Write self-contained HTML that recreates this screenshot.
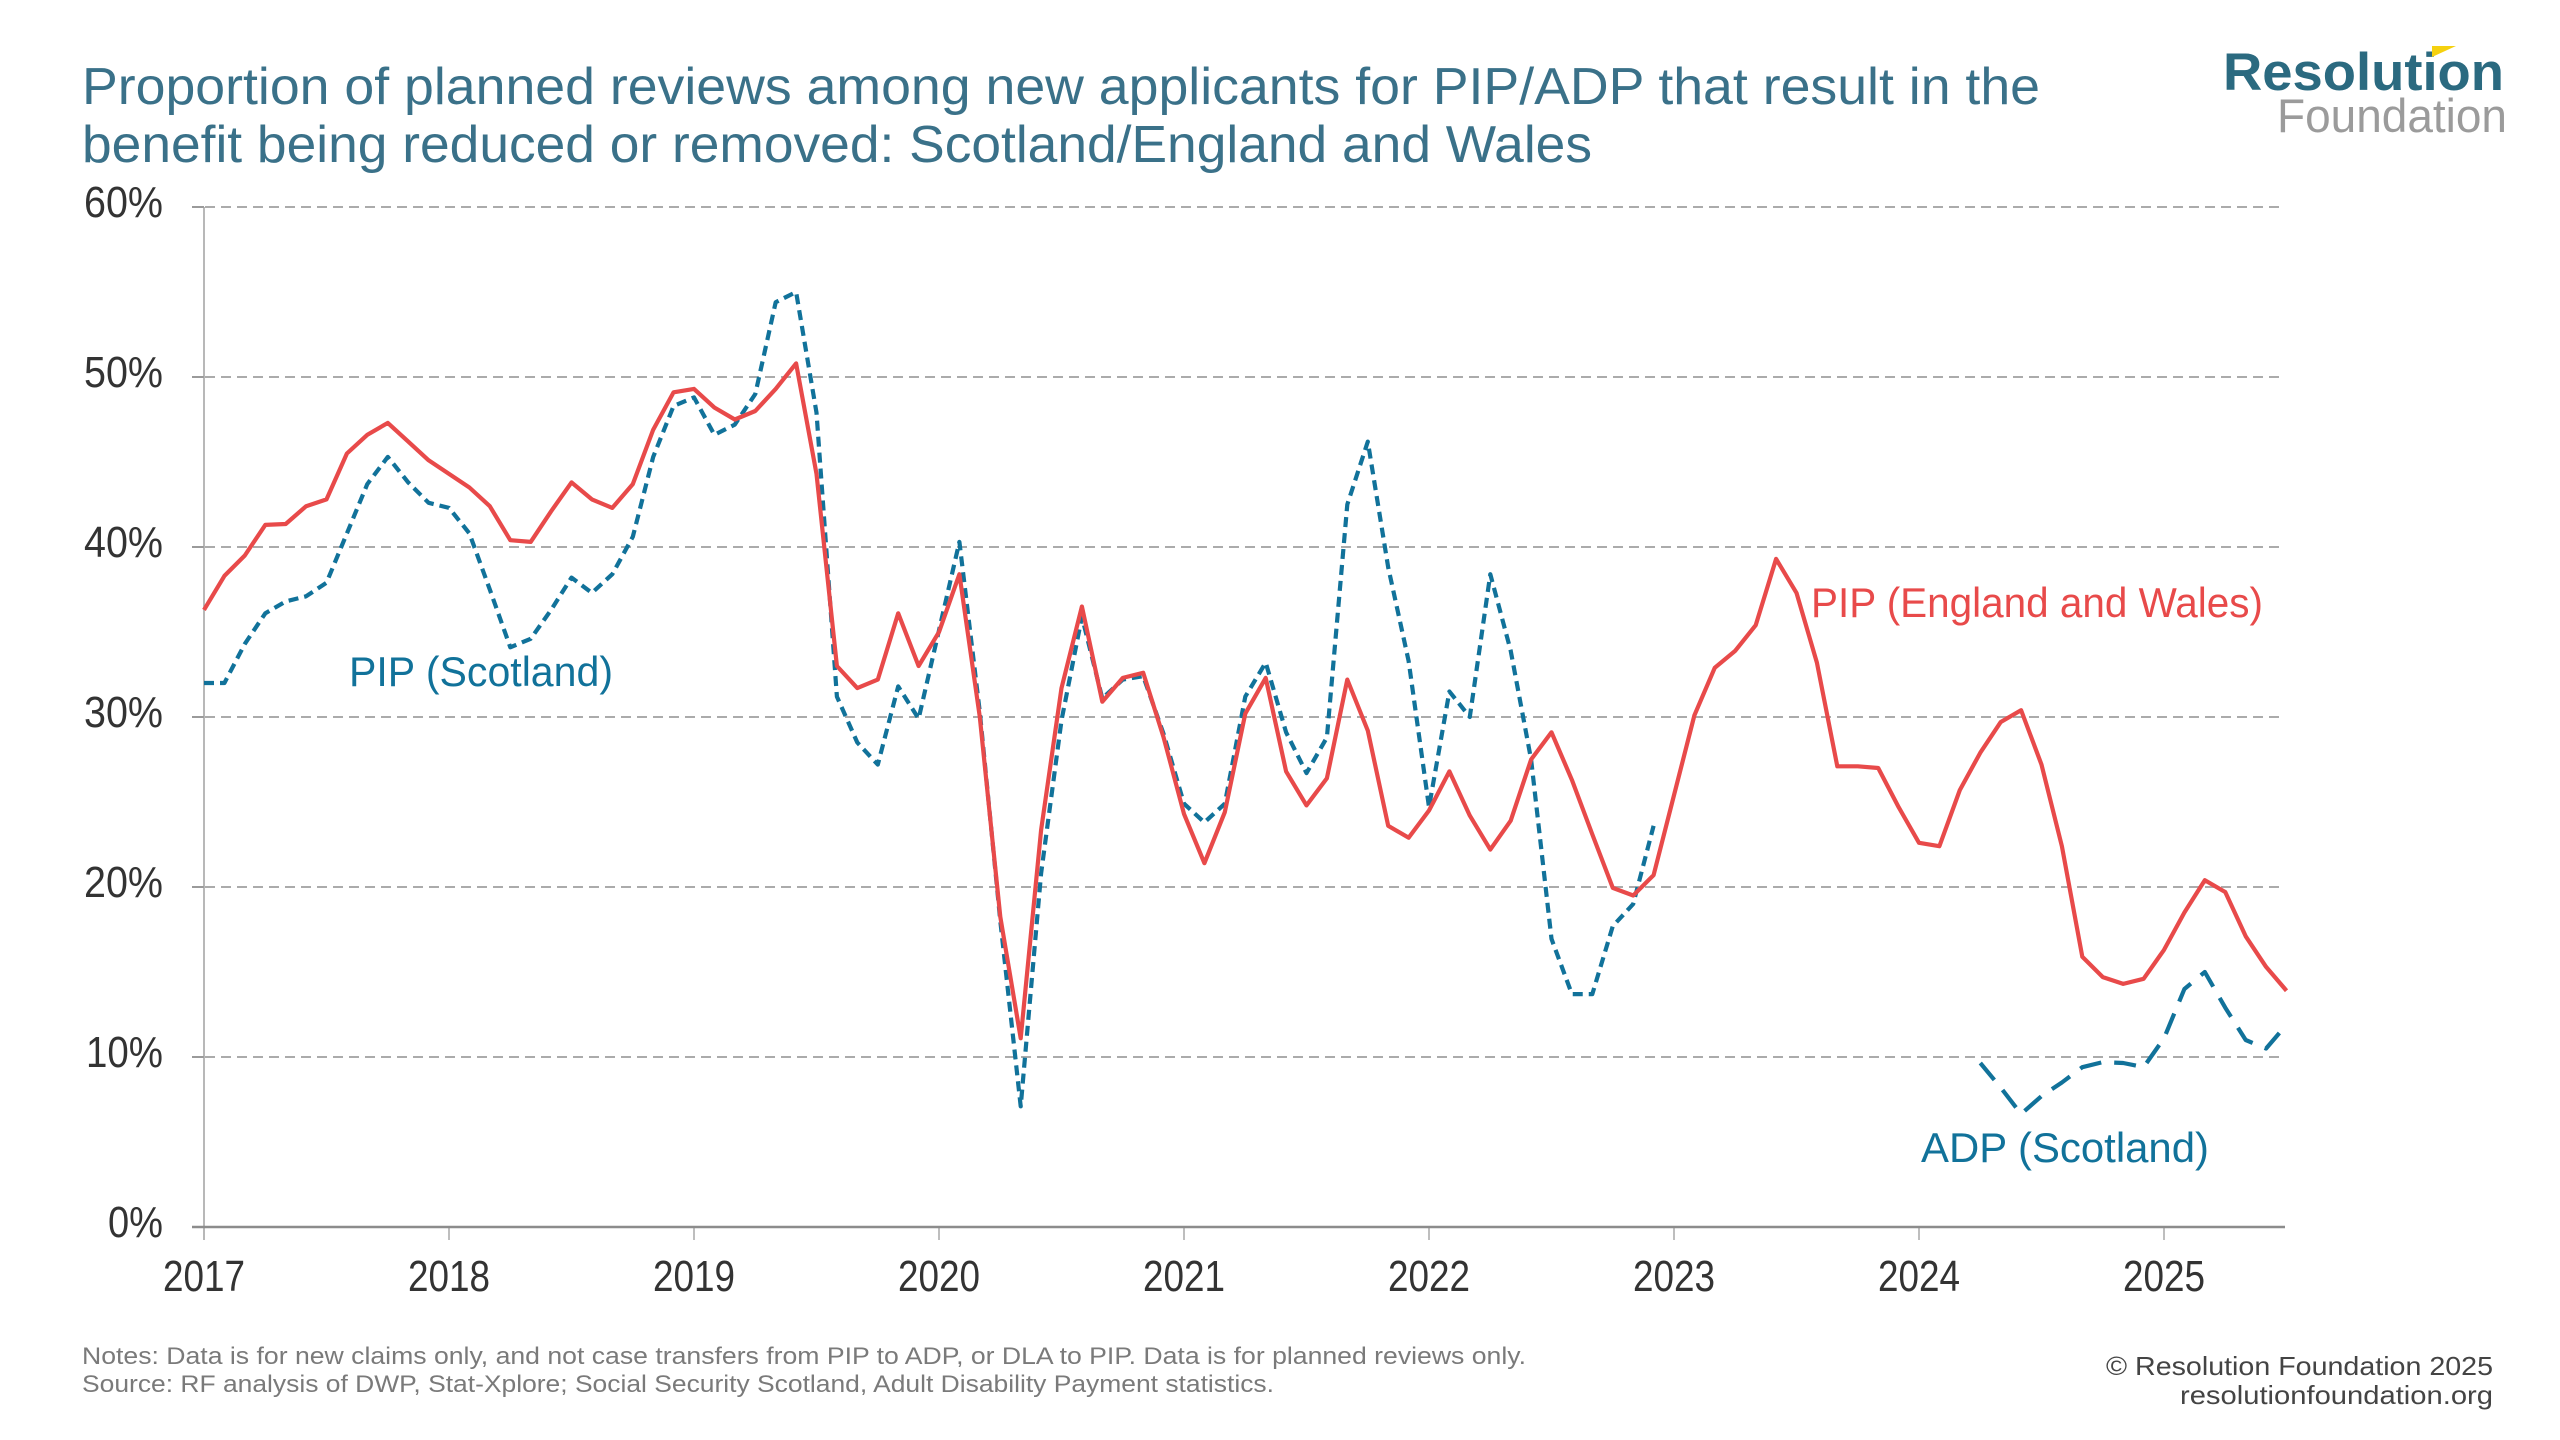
<!DOCTYPE html>
<html>
<head>
<meta charset="utf-8">
<style>
  html,body{margin:0;padding:0;background:#ffffff;}
  svg{display:block;}
  text{font-family:"Liberation Sans", Arial, sans-serif;}
</style>
</head>
<body>
<svg xmlns="http://www.w3.org/2000/svg" width="2560" height="1440" viewBox="0 0 2560 1440">
  <rect x="0" y="0" width="2560" height="1440" fill="#ffffff"/>

  <!-- Title -->
  <text x="82" y="104" font-size="52" fill="#3a7189" textLength="1958" lengthAdjust="spacingAndGlyphs">Proportion of planned reviews among new applicants for PIP/ADP that result in the</text>
  <text x="82" y="162" font-size="52" fill="#3a7189" textLength="1510" lengthAdjust="spacingAndGlyphs">benefit being reduced or removed: Scotland/England and Wales</text>

  <!-- Logo -->
  <text x="2223" y="90" font-size="53" font-weight="bold" fill="#2b6a80" textLength="281" lengthAdjust="spacingAndGlyphs">Resolution</text>
  <polygon points="2432,46 2456,46 2432,57" fill="#f5d10f"/>
  <text x="2277" y="132" font-size="47" fill="#9b9b9b" textLength="230" lengthAdjust="spacingAndGlyphs">Foundation</text>

  <!-- Gridlines -->
  <g stroke="#ababab" stroke-width="2" stroke-dasharray="10 6" fill="none">
    <line x1="205" y1="207" x2="2284" y2="207"/>
    <line x1="205" y1="377" x2="2284" y2="377"/>
    <line x1="205" y1="547" x2="2284" y2="547"/>
    <line x1="205" y1="717" x2="2284" y2="717"/>
    <line x1="205" y1="887" x2="2284" y2="887"/>
    <line x1="205" y1="1057" x2="2284" y2="1057"/>
  </g>
  <!-- Y ticks -->
  <g stroke="#9a9a9a" stroke-width="2">
    <line x1="192" y1="207" x2="204" y2="207"/>
    <line x1="192" y1="377" x2="204" y2="377"/>
    <line x1="192" y1="547" x2="204" y2="547"/>
    <line x1="192" y1="717" x2="204" y2="717"/>
    <line x1="192" y1="887" x2="204" y2="887"/>
    <line x1="192" y1="1057" x2="204" y2="1057"/>
  </g>
  <!-- Y axis -->
  <line x1="204" y1="207" x2="204" y2="1240" stroke="#a0a0a0" stroke-width="1.5"/>
  <!-- X ticks -->
  <g stroke="#a8a8a8" stroke-width="1.5">
    <line x1="449" y1="1227" x2="449" y2="1240"/>
    <line x1="694" y1="1227" x2="694" y2="1240"/>
    <line x1="939" y1="1227" x2="939" y2="1240"/>
    <line x1="1184" y1="1227" x2="1184" y2="1240"/>
    <line x1="1429" y1="1227" x2="1429" y2="1240"/>
    <line x1="1674" y1="1227" x2="1674" y2="1240"/>
    <line x1="1919" y1="1227" x2="1919" y2="1240"/>
    <line x1="2164" y1="1227" x2="2164" y2="1240"/>
  </g>
  <!-- Zero line -->
  <line x1="192" y1="1227" x2="2285" y2="1227" stroke="#8c8c8c" stroke-width="2.5"/>

  <!-- Y labels -->
  <g font-size="44" fill="#333333">
    <text x="84" y="217" textLength="79" lengthAdjust="spacingAndGlyphs">60%</text>
    <text x="84" y="387" textLength="79" lengthAdjust="spacingAndGlyphs">50%</text>
    <text x="84" y="557" textLength="79" lengthAdjust="spacingAndGlyphs">40%</text>
    <text x="84" y="727" textLength="79" lengthAdjust="spacingAndGlyphs">30%</text>
    <text x="84" y="897" textLength="79" lengthAdjust="spacingAndGlyphs">20%</text>
    <text x="86" y="1067" textLength="77" lengthAdjust="spacingAndGlyphs">10%</text>
    <text x="108" y="1237" textLength="55" lengthAdjust="spacingAndGlyphs">0%</text>
  </g>
  <!-- X labels -->
  <g font-size="44" fill="#333333">
    <text x="163" y="1291" textLength="82" lengthAdjust="spacingAndGlyphs">2017</text>
    <text x="408" y="1291" textLength="82" lengthAdjust="spacingAndGlyphs">2018</text>
    <text x="653" y="1291" textLength="82" lengthAdjust="spacingAndGlyphs">2019</text>
    <text x="898" y="1291" textLength="82" lengthAdjust="spacingAndGlyphs">2020</text>
    <text x="1143" y="1291" textLength="82" lengthAdjust="spacingAndGlyphs">2021</text>
    <text x="1388" y="1291" textLength="82" lengthAdjust="spacingAndGlyphs">2022</text>
    <text x="1633" y="1291" textLength="82" lengthAdjust="spacingAndGlyphs">2023</text>
    <text x="1878" y="1291" textLength="82" lengthAdjust="spacingAndGlyphs">2024</text>
    <text x="2123" y="1291" textLength="82" lengthAdjust="spacingAndGlyphs">2025</text>
  </g>

  <!-- PIP (Scotland) dashed -->
  <polyline fill="none" stroke="#11729a" stroke-width="4.2" stroke-dasharray="10 6" stroke-linejoin="round"
    points="204,683 224.4,683 244.8,643.9 265.3,613.3 285.7,601.4 306.1,596.3 326.5,582.7 346.9,533.4 367.3,484.1 387.8,456.9 408.2,482.4 428.6,502.8 449,507.9 469.4,533.4 489.8,589.5 510.3,647.3 530.7,638.8 551.1,609.9 571.5,577.6 591.9,592.9 612.3,574.2 632.8,536.8 653.2,456.9 673.6,405.9 694,397.4 714.4,434.8 734.8,424.6 755.3,394 775.7,302.2 796.1,292 816.5,412.7 836.9,696.6 857.3,742.5 877.8,764.6 898.2,686.4 918.6,718.7 939,630.3 959.4,541.9 979.8,711.9 1000.3,921 1020.7,1106.3 1041.1,873.4 1061.5,720.4 1081.9,616.7 1102.3,698.3 1122.8,679.6 1143.2,676.2 1163.6,734 1184,803.7 1204.4,822.4 1224.8,803.7 1245.3,696.6 1265.7,662.6 1286.1,732.3 1306.5,773.1 1326.9,737.4 1347.3,504.5 1367.8,441.6 1388.2,567.4 1408.6,660.9 1429,807.1 1449.4,691.5 1469.8,717 1490.3,574.2 1510.7,650.7 1531.1,759.5 1551.5,938.9 1571.9,994.1 1592.3,994.1 1612.8,926.1 1633.2,904 1653.6,825.8"/>

  <!-- PIP (England and Wales) solid -->
  <polyline fill="none" stroke="#e84a4a" stroke-width="4.2" stroke-linejoin="round"
    points="204,609.9 224.4,575.9 244.8,555.5 265.3,524.9 285.7,524 306.1,506.2 326.5,499.4 346.9,453.5 367.3,434.8 387.8,422.9 408.2,441.6 428.6,460.3 449,473.9 469.4,487.5 489.8,506.2 510.3,540.2 530.7,541.9 551.1,511.3 571.5,482.4 591.9,499.4 612.3,507.9 632.8,484.1 653.2,429.7 673.6,392.3 694,388.9 714.4,407.6 734.8,419.5 755.3,411 775.7,388.9 796.1,363.4 816.5,473.9 836.9,666 857.3,688.1 877.8,679.6 898.2,613.3 918.6,666 939,632 959.4,574.2 979.8,717 1000.3,916.8 1020.7,1038.3 1041.1,830.1 1061.5,688.1 1081.9,606.5 1102.3,701.7 1122.8,677.9 1143.2,672.8 1163.6,737.4 1184,813.9 1204.4,863.2 1224.8,812.2 1245.3,713.6 1265.7,677.9 1286.1,771.4 1306.5,805.4 1326.9,778.2 1347.3,679.6 1367.8,730.6 1388.2,825.8 1408.6,837.7 1429,810.5 1449.4,771.4 1469.8,815.6 1490.3,849.6 1510.7,820.7 1531.1,759.5 1551.5,732.3 1571.9,779.9 1592.3,834.3 1612.8,887.9 1633.2,895.5 1653.6,875.1 1674,795.2 1694.4,715.3 1714.8,667.7 1735.3,650.7 1755.7,625.2 1776.1,558.9 1796.5,592.9 1816.9,662.6 1837.3,766.3 1857.8,766.3 1878.2,768 1898.6,807.1 1919,842.8 1939.4,846.2 1959.8,790.1 1980.3,752.7 2000.7,722.1 2021.1,710.2 2041.5,764.6 2061.9,846.2 2082.3,956.7 2102.8,977.1 2123.2,983.9 2143.6,978.8 2164,949.9 2184.4,912.5 2204.8,880.2 2225.3,892.1 2245.7,936.3 2266.1,966.9 2286.5,990.7"/>

  <!-- ADP (Scotland) long dashes -->
  <polyline fill="none" stroke="#11729a" stroke-width="4.2" stroke-dasharray="22 13" stroke-linejoin="round"
    points="1980.3,1063 2000.7,1087.6 2021.1,1114 2041.5,1096.1 2061.9,1082.5 2082.3,1067.2 2102.8,1062.1 2123.2,1063 2143.6,1067.2 2164,1038.3 2184.4,989 2204.8,972 2225.3,1007.7 2245.7,1040 2266.1,1048.5 2286.5,1024.7"/>

  <!-- Series labels -->
  <text x="349" y="686" font-size="42" fill="#11729a" textLength="264" lengthAdjust="spacingAndGlyphs">PIP (Scotland)</text>
  <text x="1811" y="617" font-size="42" fill="#e84a4a" textLength="452" lengthAdjust="spacingAndGlyphs">PIP (England and Wales)</text>
  <text x="1921" y="1162" font-size="42" fill="#11729a" textLength="288" lengthAdjust="spacingAndGlyphs">ADP (Scotland)</text>

  <!-- Notes -->
  <text x="82" y="1364" font-size="24" fill="#7a7a7a" textLength="1444" lengthAdjust="spacingAndGlyphs">Notes: Data is for new claims only, and not case transfers from PIP to ADP, or DLA to PIP. Data is for planned reviews only.</text>
  <text x="82" y="1392" font-size="24" fill="#7a7a7a" textLength="1192" lengthAdjust="spacingAndGlyphs">Source: RF analysis of DWP, Stat-Xplore; Social Security Scotland, Adult Disability Payment statistics.</text>

  <!-- Footer right -->
  <text x="2106" y="1375" font-size="26" fill="#444444" textLength="387" lengthAdjust="spacingAndGlyphs">© Resolution Foundation 2025</text>
  <text x="2180" y="1404" font-size="26" fill="#444444" textLength="313" lengthAdjust="spacingAndGlyphs">resolutionfoundation.org</text>
</svg>
</body>
</html>
